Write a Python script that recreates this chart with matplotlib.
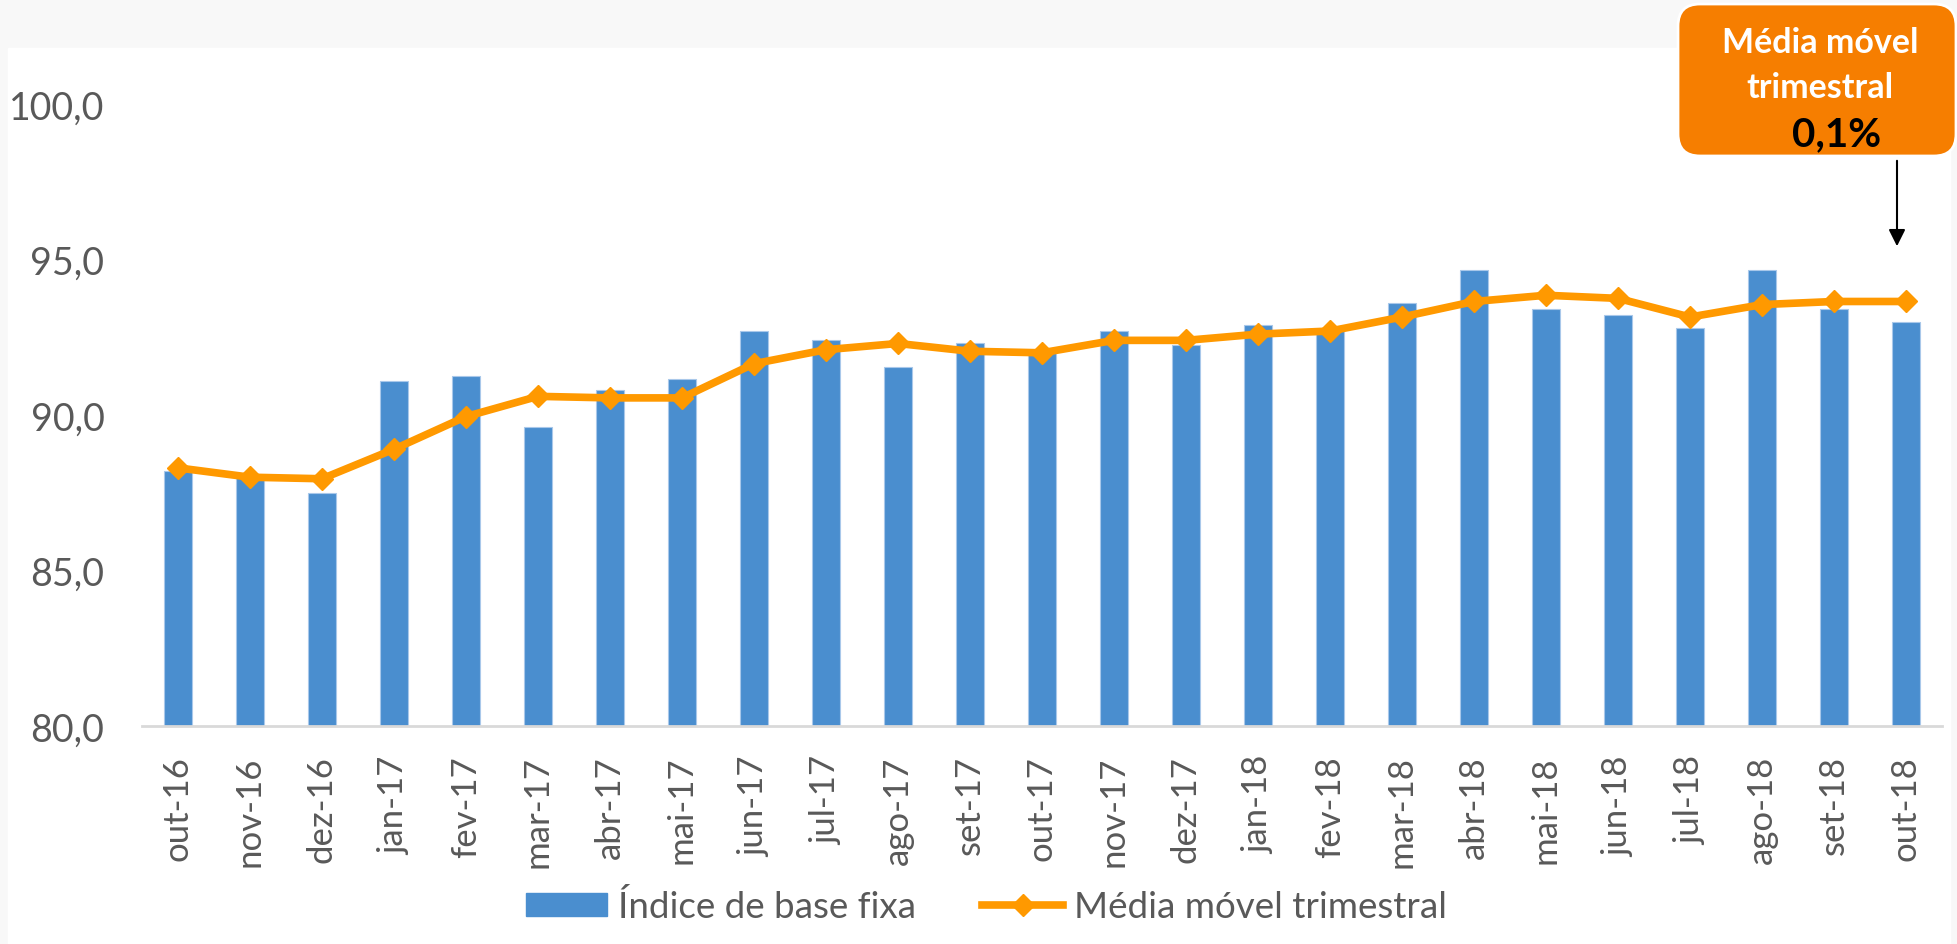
import matplotlib
matplotlib.use("Agg")
import matplotlib.pyplot as plt
from matplotlib.patches import Rectangle, FancyBboxPatch
from matplotlib.lines import Line2D

plt.rcParams['font.family'] = ['Lato', 'DejaVu Sans']

# dados
meses = ["out-16", "nov-16", "dez-16", "jan-17", "fev-17", "mar-17", "abr-17",
         "mai-17", "jun-17", "jul-17", "ago-17", "set-17", "out-17", "nov-17",
         "dez-17", "jan-18", "fev-18", "mar-18", "abr-18", "mai-18", "jun-18",
         "jul-18", "ago-18", "set-18", "out-18"]
indice = [88.2, 88.0, 87.5, 91.1, 91.25, 89.6, 90.8, 91.15, 92.7, 92.4, 91.55,
          92.3, 92.0, 92.7, 92.25, 92.9, 92.75, 93.6, 94.65, 93.4, 93.2, 92.8,
          94.65, 93.4, 93.0]
media_movel = [88.3, 88.0, 87.95, 88.9, 89.95, 90.6, 90.55, 90.55, 91.65, 92.1,
               92.3, 92.05, 92.0, 92.4, 92.4, 92.6, 92.7, 93.15, 93.65, 93.85,
               93.75, 93.15, 93.55, 93.65, 93.65]
yticks = [80, 85, 90, 95, 100]

W, H = 1958, 945
azul = '#4A8ECF'
laranja = '#FF9900'
cinza_txt = '#595959'

fig = plt.figure(figsize=(W / 100, H / 100), dpi=100, facecolor='#F8F8F8')
fig.patches.append(Rectangle((8 / W, 0), (1950 - 8) / W, (H - 49) / H,
                             transform=fig.transFigure, color='white', zorder=-10))

ax = fig.add_axes([142 / W, (H - 727) / H, 1800 / W, 622 / H])
ax.patch.set_alpha(0)

x = list(range(len(meses)))
ax.bar(x, indice, width=0.38, color=azul, edgecolor='#A9C8EA', linewidth=0.8, zorder=2)
ax.plot(x, media_movel, color=laranja, lw=5.5, marker='D', ms=11.5, zorder=3)

ax.set_xlim(-0.5, len(meses) - 0.5)
ax.set_ylim(80, 100)
ax.set_yticks(yticks)
ax.set_yticklabels([f"{v:.1f}".replace('.', ',') for v in yticks])
ax.set_xticks(x)
ax.set_xticklabels(meses, rotation=90)
ax.tick_params(axis='both', length=0, labelcolor=cinza_txt)
ax.tick_params(axis='y', pad=27, labelsize=27)
ax.tick_params(axis='x', pad=21, labelsize=25)

for s in ['top', 'right', 'left']:
    ax.spines[s].set_visible(False)
ax.spines['bottom'].set_color('#D9D9D9')
ax.spines['bottom'].set_linewidth(2)
ax.spines['bottom'].set_zorder(4)

# legenda
handles = [Rectangle((0, 0), 1, 1, color=azul),
           Line2D([], [], color=laranja, lw=5.5, marker='D', ms=11.5)]
leg = fig.legend(handles, ["Índice de base fixa", "Média móvel trimestral"],
                 loc='center', bbox_to_anchor=(0.504, 0.04), ncol=2, frameon=False,
                 fontsize=26.5, handlelength=2.2, handleheight=0.6,
                 handletextpad=0.3, columnspacing=1.8)
for t in leg.get_texts():
    t.set_color(cinza_txt)

# caixa de destaque
caixa = FancyBboxPatch((1678 / 100, (H - 157) / 100), 2.78, 1.52,
                       boxstyle="round,pad=0,rounding_size=0.22",
                       transform=fig.dpi_scale_trans, facecolor='#F67E00',
                       edgecolor='white', linewidth=2, zorder=5)
fig.patches.append(caixa)
fig.text(1820 / W, 1 - 43 / H, "Média móvel", color='white', fontsize=24.5,
         fontweight='bold', ha='center', va='center', zorder=6)
fig.text(1820 / W, 1 - 88 / H, "trimestral", color='white', fontsize=24.5,
         fontweight='bold', ha='center', va='center', zorder=6)
fig.text(1837 / W, 1 - 135 / H, "0,1%", color='black', fontsize=29,
         fontweight='bold', ha='center', va='center', zorder=6)

ax.annotate('', xy=(1897 / W, 1 - 250 / H), xytext=(1897 / W, 1 - 159 / H),
            xycoords='figure fraction', textcoords='figure fraction',
            annotation_clip=False,
            arrowprops=dict(arrowstyle='-|>', color='black', lw=1.5, mutation_scale=25))

fig.savefig('out.png', dpi=100, facecolor=fig.get_facecolor())
